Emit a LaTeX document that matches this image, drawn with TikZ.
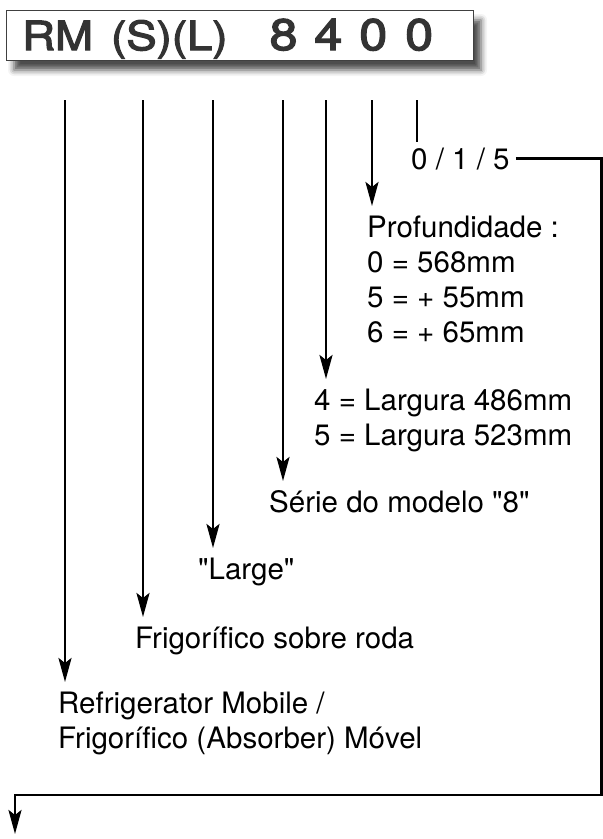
\documentclass[tikz,border=0pt]{standalone}
\usepackage{fontspec}
\setmainfont{TeX Gyre Heros}
\newfontfamily\hdrfont[FakeStretch=1.14,FakeBold=3]{TeX Gyre Heros}
\usetikzlibrary{arrows.meta,calc,shadows.blur}

\begin{document}
\begin{tikzpicture}[x=1pt,y=-1pt,
  lbl/.style={anchor=base west,inner sep=0pt,align=left,font=\fontsize{29.5}{35}\selectfont},
  arr/.style={line width=2.6pt,-{Stealth[length=24pt,width=13pt,inset=5pt]}}]
\useasboundingbox (0,0) rectangle (603,839);
% header box with the model code
\node[draw=black!75,line width=1pt,fill=white,minimum width=467pt,minimum height=50pt,
  blur shadow={shadow xshift=8pt,shadow yshift=-10pt,shadow blur radius=6pt,shadow opacity=70}]
  (hdr) at (239.5,35) {};
\node[anchor=base west,inner sep=0pt,text=black!80,font=\hdrfont\fontsize{40}{40}\selectfont]
  (code) at (22,50) {RM\hspace{18pt}(S)(L)\hspace{42pt}{\fontsize{44}{44}\selectfont
  8\hspace{17pt}4\hspace{17pt}0\hspace{18pt}0}};
\foreach \n/\x in {1/65,2/143,3/213,4/283,5/326,6/372,7/417}
  \coordinate (t\n) at (\x,100);
% labels (base = last line)
\node[lbl,inner xsep=6pt,inner ysep=5pt] (cfg) at (405,169) {0 / 1 / 5};
\node[lbl] (prof) at (367,342) {Profundidade :\\0 = 568mm\\5 = + 55mm\\6 = + 65mm};
\node[lbl] (larg) at (314,445) {4 = Largura 486mm\\5 = Largura 523mm};
\node[lbl] (serie) at (269,512) {Série do modelo \textquotedbl 8\textquotedbl};
\node[lbl] (large) at (198,579) {\textquotedbl Large\textquotedbl};
\node[lbl] (frig) at (135,648) {Frigorífico sobre roda};
\node[lbl] (refr) at (58,748) {Refrigerator Mobile /\\Frigorífico (Absorber) Móvel};
% arrows
\foreach \t/\l/\d in {t1/refr/66,t2/frig/31,t3/large/31,t4/serie/31,t5/larg/66,t6/prof/136}
  \draw[arr] (\t) -- ($(\t |- \l.base)+(0,-\d)$);
\draw[line width=2.6pt] (t7) -- (t7 |- cfg.north);
\coordinate (se) at (601.5,795);
\coordinate (out) at (15,834);
\draw[arr] (cfg.east) -| (se) -| (out);
\end{tikzpicture}
\end{document}
